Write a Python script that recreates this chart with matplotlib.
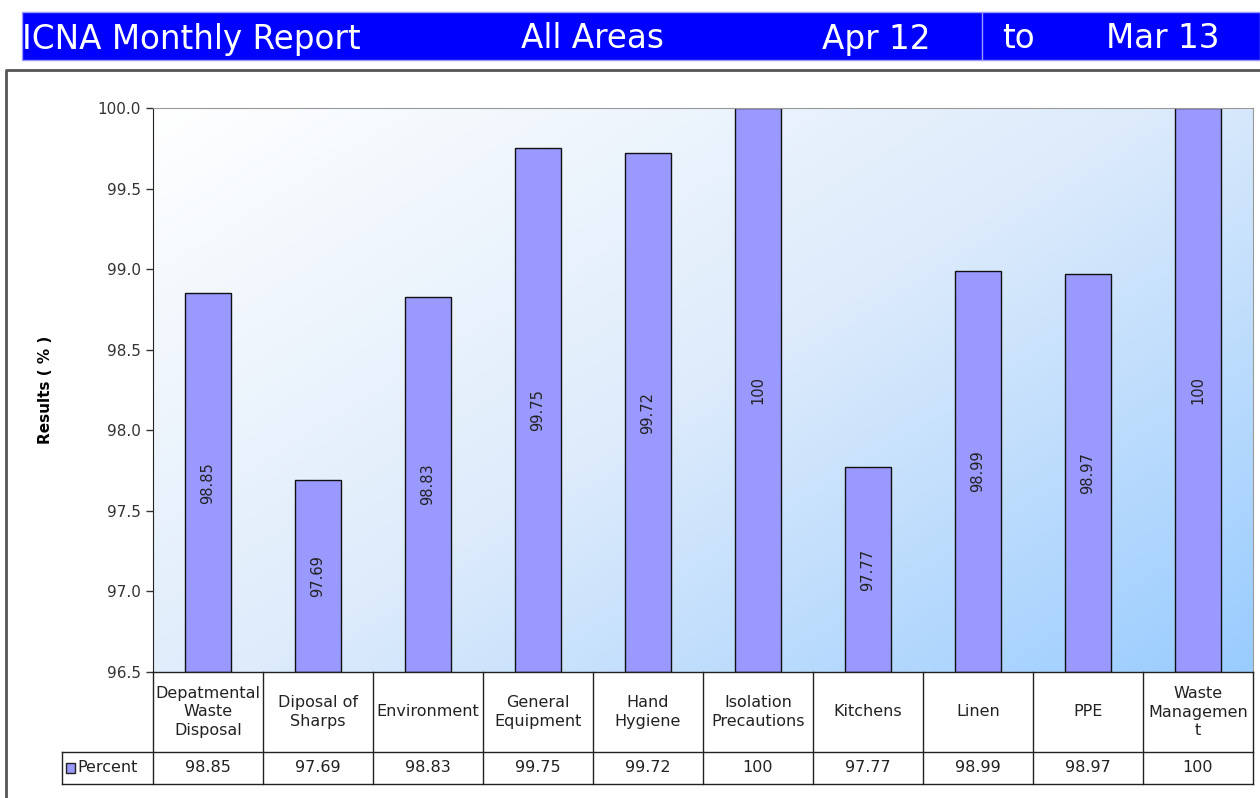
import numpy as np
import matplotlib
matplotlib.use("Agg")
import matplotlib.pyplot as plt
from matplotlib.patches import Rectangle
from matplotlib.colors import LinearSegmentedColormap

categories = ["Depatmental\nWaste\nDisposal", "Diposal of\nSharps", "Environment",
              "General\nEquipment", "Hand\nHygiene", "Isolation\nPrecautions",
              "Kitchens", "Linen", "PPE", "Waste\nManagemen\nt"]
values = [98.85, 97.69, 98.83, 99.75, 99.72, 100, 97.77, 98.99, 98.97, 100]
value_labels = ["98.85", "97.69", "98.83", "99.75", "99.72", "100", "97.77", "98.99", "98.97", "100"]
series_name = "Percent"
yticks = [96.5, 97.0, 97.5, 98.0, 98.5, 99.0, 99.5, 100.0]
title_parts = ["ICNA Monthly Report", "All Areas", "Apr 12", "to", "Mar 13"]

W, H = 1260, 798
fig = plt.figure(figsize=(W / 100, H / 100), dpi=100)
fig.patch.set_facecolor("white")

def px_axes(x0, y0, x1, y1, **kw):
    return fig.add_axes([x0 / W, 1 - y1 / H, (x1 - x0) / W, (y1 - y0) / H], **kw)

font = "DejaVu Sans"

# Header bar
hax = px_axes(0, 0, W, H)
hax.set_xlim(0, W); hax.set_ylim(H, 0); hax.axis("off")
hax.add_patch(Rectangle((22, 12), W - 22, 48, facecolor="#0000FF", edgecolor="#9999FF", lw=1))
hax.plot([982, 982], [12, 60], color="#9999FF", lw=1)
tkw = dict(color="white", fontsize=23.5, va="center", family=font)
hax.text(22, 39, title_parts[0], ha="left", **tkw)
hax.text(592, 39, title_parts[1], ha="center", **tkw)
hax.text(931, 39, title_parts[2], ha="right", **tkw)
hax.text(1002, 39, title_parts[3], ha="left", **tkw)
hax.text(1220, 39, title_parts[4], ha="right", **tkw)
# chart frame
hax.plot([6, 6, W], [H, 70, 70], color="#555555", lw=2)
hax.text(46, 390, "Results ( % )", rotation=90, fontsize=11, fontweight="bold", va="center", ha="center")

# Main plot
x0, x1, y0, y1 = 153, 1253, 108, 672
ax = px_axes(x0, y0, x1, y1)
n = len(categories)
xs = np.arange(n)
ax.set_xlim(-0.5, n - 0.5)
ax.set_ylim(96.5, 100.0)

cmap = LinearSegmentedColormap.from_list("bg", ["#FFFFFF", "#DDEBFB", "#99CCFF"])
gx, gy = np.meshgrid(np.linspace(0, 1, 300), np.linspace(0, 1, 300))
grad = (gx * 0.55 + gy * 0.45)
ax.imshow(grad, cmap=cmap, extent=[-0.5, n - 0.5, 96.5, 100.0], aspect="auto", zorder=0, origin="upper")

bars = ax.bar(xs, np.array(values) - 96.5, bottom=96.5, width=0.41, color="#9999FF",
              edgecolor="#111111", lw=1, zorder=2)
for x, v, lab in zip(xs, values, value_labels):
    ax.text(x, (96.5 + v) / 2, lab, rotation=90, ha="center", va="center", fontsize=10.5,
            color="#222222", zorder=3)

ax.set_yticks(yticks)
ax.set_yticklabels([f"{t:.1f}" for t in yticks], fontsize=11, color="#333333")
ax.set_xticks([])
ax.tick_params(axis="y", length=5, width=1, color="#333333", pad=4)
for s in ["top", "right"]:
    ax.spines[s].set_color("#999999")
ax.spines["left"].set_color("#222222")
ax.spines["bottom"].set_visible(False)

# Table
tx0 = 62
tax = px_axes(tx0, 672, x1, 784)
unit = (x1 - x0) / n
left = -0.5 - (x0 - tx0) / unit
tax.set_xlim(left, n - 0.5)
tax.set_ylim(112, 0)
tax.axis("off")
lc = "#222222"
tax.plot([-0.5, n - 0.5], [0, 0], color=lc, lw=1, clip_on=False)
tax.plot([left, n - 0.5], [80, 80], color=lc, lw=1, clip_on=False)
tax.plot([left, n - 0.5], [112, 112], color=lc, lw=1, clip_on=False)
tax.plot([left, left], [80, 112], color=lc, lw=1, clip_on=False)
for i in range(n + 1):
    tax.plot([i - 0.5, i - 0.5], [0, 112], color=lc, lw=1, clip_on=False)
for x, c, lab in zip(xs, categories, value_labels):
    tax.text(x, 40, c, ha="center", va="center", fontsize=11.5, color="#222222", linespacing=1.3)
    tax.text(x, 96, lab, ha="center", va="center", fontsize=11.5, color="#222222")
tax.add_patch(Rectangle((left + 0.04, 91), 0.08, 10, facecolor="#9999FF", edgecolor="#222222", lw=1, clip_on=False))
tax.text(left + 0.14, 96, series_name, ha="left", va="center", fontsize=11.5, color="#222222")

fig.savefig("out.png", dpi=100)
